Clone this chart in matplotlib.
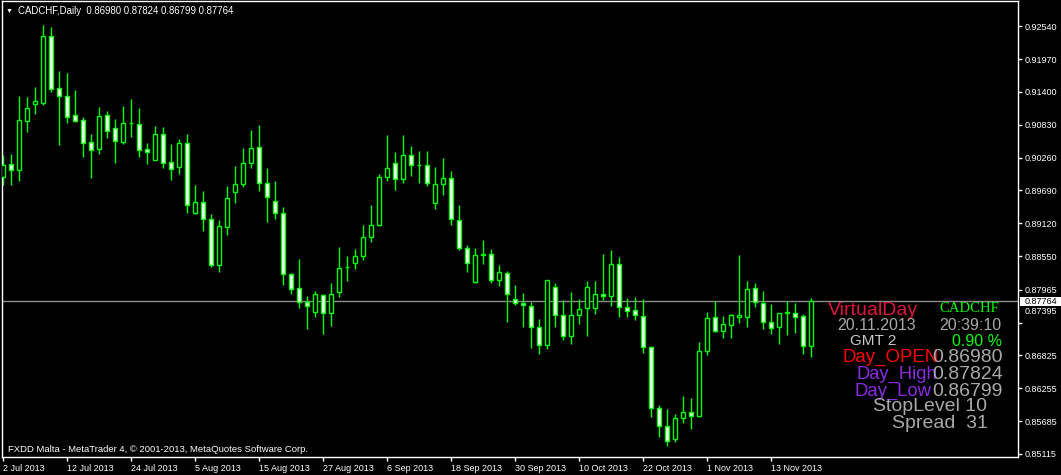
import matplotlib
matplotlib.use("Agg")
import matplotlib.pyplot as plt
import matplotlib.transforms as mtransforms
from matplotlib.patches import Rectangle

W, H = 1061, 475

# daily CADCHF candles, 2 Jul 2013 .. 20 Nov 2013 (weekdays)
opens = [0.89917, 0.90148, 0.90049, 0.90900, 0.91184, 0.91212, 0.92370, 0.91462, 0.91323, 0.90993,
         0.90912, 0.90525, 0.90413, 0.90993, 0.90768, 0.90535, 0.90856, 0.90837, 0.90403, 0.90212,
         0.90663, 0.90177, 0.90090, 0.90507, 0.89302, 0.89483, 0.89188, 0.88389, 0.89049, 0.89670,
         0.89795, 0.90160, 0.90438, 0.89813, 0.89500, 0.89292, 0.88233, 0.87990, 0.87757, 0.87584,
         0.87868, 0.87556, 0.87920, 0.88354, 0.88424, 0.88545, 0.88875, 0.89084, 0.89917, 0.90160,
         0.89882, 0.90299, 0.90125, 0.90125, 0.89466, 0.89795, 0.89900, 0.89170, 0.88684, 0.88104,
         0.88577, 0.88580, 0.88129, 0.88250, 0.87799, 0.87729, 0.87677, 0.87313, 0.87011, 0.88007,
         0.87521, 0.87157, 0.87521, 0.87643, 0.87643, 0.87886, 0.87851, 0.88406, 0.87660, 0.87608,
         0.87504, 0.86965, 0.85906, 0.85594, 0.85368, 0.85733, 0.85837, 0.85768, 0.86896, 0.87486,
         0.87243, 0.87347, 0.87497, 0.87486, 0.87990, 0.87729, 0.87399, 0.87313, 0.87556, 0.87556,
         0.87504, 0.86980]
highs = [0.90304, 0.90321, 0.91328, 0.91311, 0.91485, 0.92561, 0.92526, 0.91762, 0.91728, 0.91433,
         0.90964, 0.90669, 0.91137, 0.91068, 0.90929, 0.91155, 0.91276, 0.91120, 0.90512, 0.90808,
         0.90790, 0.90495, 0.90582, 0.90669, 0.89783, 0.89679, 0.89280, 0.89176, 0.89766, 0.90113,
         0.90426, 0.90738, 0.90825, 0.90073, 0.89853, 0.89401, 0.88255, 0.88499, 0.87856, 0.87943,
         0.87896, 0.88082, 0.88707, 0.88551, 0.88672, 0.89089, 0.89436, 0.89974, 0.90651, 0.90356,
         0.90651, 0.90460, 0.90374, 0.90374, 0.90096, 0.90252, 0.90026, 0.89436, 0.88742, 0.88689,
         0.88828, 0.88672, 0.88400, 0.88290, 0.88052, 0.87913, 0.87757, 0.87457, 0.88131, 0.88077,
         0.87787, 0.87926, 0.87804, 0.88117, 0.88117, 0.88585, 0.88655, 0.88533, 0.87821, 0.87839,
         0.87804, 0.86983, 0.85964, 0.85894, 0.85808, 0.86120, 0.86085, 0.87058, 0.87578, 0.87764,
         0.87504, 0.87544, 0.88568, 0.88117, 0.88082, 0.87943, 0.87717, 0.87556, 0.87764, 0.87735,
         0.87544, 0.87824]
lows = [0.89783, 0.89788, 0.89858, 0.90709, 0.91021, 0.91177, 0.91403, 0.90483, 0.90865, 0.90877,
        0.90275, 0.89910, 0.90327, 0.90604, 0.90170, 0.90500, 0.90622, 0.90275, 0.90153, 0.90210,
        0.90083, 0.89875, 0.89979, 0.89302, 0.89280, 0.88990, 0.88354, 0.88278, 0.88920, 0.89476,
        0.89743, 0.90083, 0.89684, 0.89146, 0.89198, 0.88052, 0.87896, 0.87653, 0.87288, 0.87497,
        0.87202, 0.87341, 0.87844, 0.88122, 0.88330, 0.88486, 0.88799, 0.89071, 0.89858, 0.89702,
        0.89813, 0.89945, 0.89823, 0.89771, 0.89372, 0.89615, 0.89094, 0.88650, 0.88278, 0.88087,
        0.88417, 0.88087, 0.88035, 0.87410, 0.87695, 0.87323, 0.86959, 0.86854, 0.86941, 0.87323,
        0.87097, 0.87028, 0.87365, 0.87167, 0.87538, 0.87782, 0.87688, 0.87486, 0.87497, 0.87448,
        0.86866, 0.85761, 0.85413, 0.85257, 0.85327, 0.85657, 0.85552, 0.85750, 0.86837, 0.87226,
        0.87132, 0.87132, 0.87393, 0.87323, 0.87670, 0.87288, 0.87202, 0.87028, 0.87184, 0.87219,
        0.86854, 0.86799]
closes = [0.90125, 0.90049, 0.90912, 0.91115, 0.91242, 0.92370, 0.91455, 0.91323, 0.90969, 0.90889,
          0.90518, 0.90396, 0.90976, 0.90716, 0.90542, 0.90854, 0.90854, 0.90386, 0.90351, 0.90663,
          0.90170, 0.90066, 0.90507, 0.89431, 0.89483, 0.89188, 0.88389, 0.89066, 0.89552, 0.89795,
          0.90160, 0.90420, 0.89813, 0.89570, 0.89292, 0.88233, 0.87972, 0.87747, 0.87677, 0.87886,
          0.87556, 0.87886, 0.88337, 0.88352, 0.88545, 0.88875, 0.89084, 0.89917, 0.90073, 0.89882,
          0.90299, 0.90125, 0.90123, 0.89813, 0.89795, 0.89900, 0.89188, 0.88684, 0.88424, 0.88563,
          0.88563, 0.88129, 0.88268, 0.87886, 0.87729, 0.87695, 0.87313, 0.87000, 0.88129, 0.87521,
          0.87157, 0.87521, 0.87625, 0.88007, 0.87886, 0.87856, 0.88406, 0.87660, 0.87590, 0.87521,
          0.86965, 0.85906, 0.85594, 0.85334, 0.85733, 0.85837, 0.85768, 0.86896, 0.87469, 0.87243,
          0.87365, 0.87521, 0.87521, 0.87972, 0.87747, 0.87399, 0.87295, 0.87556, 0.87573, 0.87486,
          0.86983, 0.87764]

date_ticks = [0, 8, 16, 24, 32, 40, 48, 56, 64, 72, 80, 88, 96]
date_labels = ["2 Jul 2013", "12 Jul 2013", "24 Jul 2013", "5 Aug 2013", "15 Aug 2013",
               "27 Aug 2013", "6 Sep 2013", "18 Sep 2013", "30 Sep 2013", "10 Oct 2013",
               "22 Oct 2013", "1 Nov 2013", "13 Nov 2013"]
price_ticks = [0.92540, 0.91970, 0.91400, 0.90830, 0.90260, 0.89690, 0.89120, 0.88550,
               0.87965, 0.87395, 0.86825, 0.86255, 0.85685, 0.85115]
last_price = 0.87764

GREEN = "#00ff00"
AX_FONT = ["Liberation Sans", "DejaVu Sans"]


def px(x, y):
    # figure pixel (from top-left) -> figure fraction
    return x / W, 1 - y / H


fig = plt.figure(figsize=(W / 100, H / 100), dpi=100, facecolor="black")
ax = fig.add_axes([2 / W, 18 / H, 1016 / W, 456 / H], facecolor="black")

n = len(opens)
xs = list(range(n))
ax.vlines(xs, lows, highs, color=GREEN, lw=1, zorder=2)
for i in range(n):
    o, c = opens[i], closes[i]
    fill = "black" if c > o else "white"
    ax.bar(i, abs(c - o), bottom=min(o, c), width=0.5, color=fill,
           edgecolor=GREEN, linewidth=1, zorder=3)

ax.axhline(last_price, color="#8c8c8c", lw=1, zorder=1)

ax.set_xlim(-0.125, 126.875)
ax.set_ylim(0.85061, 0.92978)

for s in ax.spines.values():
    s.set_color("white")
    s.set_linewidth(1)

ax.yaxis.tick_right()
ax.set_yticks(price_ticks)
ax.set_yticklabels([f"{p:.5f}" for p in price_ticks])
ax.set_xticks(date_ticks)
ax.set_xticklabels(date_labels, ha="left")
ax.tick_params(axis="both", colors="white", length=3, width=1, pad=2,
               labelsize=6.5)
for lab in ax.get_xticklabels() + ax.get_yticklabels():
    lab.set_family(AX_FONT)
    lab.set_color("white")
# label just under the price marker is pushed up, like the terminal does
for lab, p in zip(ax.get_yticklabels(), price_ticks):
    if abs(p - 0.87395) < 1e-6:
        lab.set_transform(lab.get_transform() +
                          mtransforms.ScaledTranslation(0, 12 / 100, fig.dpi_scale_trans))

# current price marker on the scale
ppu = (456) / (0.92978 - 0.85061)
ytr = ax.get_yaxis_transform()
ax.add_patch(Rectangle((1 + 2 / 1016, last_price - 4.2 / ppu), 41 / 1016, 8.4 / ppu,
                       transform=ytr, facecolor="white", edgecolor="none",
                       clip_on=False, zorder=5))
ax.text(1 + 7 / 1016, last_price, f"{last_price:.5f}", transform=ytr, ha="left",
        va="center", color="black", fontsize=6.5, family=AX_FONT, clip_on=False, zorder=6)

# header / footer
fig.text(*px(6, 11), "\u25bc", color="white", fontsize=5, va="center", family=AX_FONT)
fig.text(*px(18, 11), "CADCHF,Daily  0.86980 0.87824 0.86799 0.87764", color="white",
         fontsize=6.9, va="center", family=AX_FONT)
fig.text(*px(8, 450), "FXDD Malta - MetaTrader 4, \u00a9 2001-2013, MetaQuotes Software Corp.",
         color="white", fontsize=6.8, va="center", family=AX_FONT)

# info panel
GRAY = "#a9a9a9"
SANS = ["Liberation Sans", "DejaVu Sans"]
info = [
    (828, 315, "VirtualDay", "#dc143c", 14, SANS),
    (939, 312.3, "CADCHF", GREEN, 10.6, ["Liberation Serif", "DejaVu Serif"]),
    (837, 330, "20.11.2013", GRAY, 11.5, SANS),
    (939, 330, "20:39:10", GRAY, 11.5, SANS),
    (850, 344.7, "GMT 2", "#c8c8c8", 11, SANS),
    (952, 345.5, "0.90 %", GREEN, 11.5, SANS),
    (843, 361.7, "Day_OPEN", "#ff0000", 13.4, SANS),
    (932, 361.7, "0.86980", GRAY, 14, SANS),
    (857, 379, "Day_High", "#8a2be2", 13.2, SANS),
    (932, 379, "0.87824", GRAY, 14, SANS),
    (855, 395.7, "Day_Low", "#8a2be2", 13.3, SANS),
    (932, 395.7, "0.86799", GRAY, 14, SANS),
    (873, 410.7, "StopLevel 10", GRAY, 14, SANS),
    (892, 427.7, "Spread  31", GRAY, 14, SANS),
]
for x, y, txt, col, fs, fam in info:
    fig.text(*px(x, y), txt, color=col, fontsize=fs, family=fam, va="baseline", ha="left")

fig.savefig("out.png", dpi=100, facecolor="black")
